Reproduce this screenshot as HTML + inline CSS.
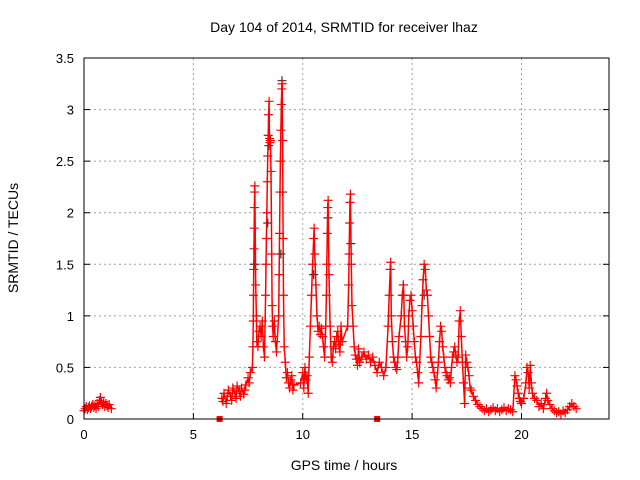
<!DOCTYPE html>
<html><head><meta charset="utf-8"><style>
body{margin:0;background:#fff}
svg{display:block;font-family:"Liberation Sans",sans-serif}
</style></head><body>
<svg id="chart" width="640" height="480">
<text x="344" y="32" font-size="14" text-anchor="middle">Day 104 of 2014, SRMTID for receiver lhaz</text>
<text x="344" y="470" font-size="14" text-anchor="middle">GPS time / hours</text>
<text transform="translate(18,238) rotate(-90)" font-size="14" text-anchor="middle">SRMTID / TECUs</text>
<g id="grid"></g><g id="marks"></g><g id="axes"></g>
</svg>
<script>
const xTicks=[0,5,10,15,20];
const yTicks=[0,0.5,1,1.5,2,2.5,3,3.5];
const yTickLabels=["0","0.5","1","1.5","2","2.5","3","3.5"];
const times=[0,.05,.1,.15,.2,.25,.3,.35,.4,.45,.5,.55,.6,.65,.7,.75,.8,.85,.9,.95,1,1.05,1.1,1.15,1.25,
6.2,
6.3,6.35,6.4,6.5,6.55,6.6,6.7,6.75,6.8,6.9,6.95,7,7.1,7.15,7.2,7.3,7.35,7.4,7.5,7.55,7.6,
7.7,7.72,7.74,7.75,7.76,7.77,7.78,7.79,7.8,7.81,7.85,7.88,7.9,7.95,8,8.05,8.1,8.15,8.2,8.25,
8.3,8.32,8.34,8.36,8.38,8.4,8.42,8.44,8.46,8.48,8.5,8.52,8.55,8.58,8.6,8.62,8.65,8.7,8.75,8.8,
8.9,8.92,8.94,8.96,8.98,9,9.02,9.04,9.06,9.08,9.1,9.12,9.15,9.2,9.25,9.3,9.35,9.4,9.45,9.5,9.55,9.6,
9.9,10,10.05,10.1,10.15,10.2,10.25,10.3,10.35,10.4,10.45,10.5,10.52,10.55,10.6,10.65,10.7,10.75,10.8,10.85,10.9,10.95,11,
11.05,11.08,11.1,11.12,11.14,11.16,11.2,11.25,11.3,11.35,11.4,11.45,11.5,11.55,11.6,11.65,11.7,11.75,11.8,
12.05,12.1,12.12,12.14,12.16,12.18,12.22,12.25,12.3,12.35,12.4,12.45,12.5,12.55,12.6,12.7,12.8,12.9,13,13.1,13.2,13.3,13.4,13.5,13.6,13.7,13.8,
13.9,13.95,14,14.02,14.05,14.1,14.15,14.2,14.25,14.3,14.35,14.4,14.5,14.55,14.6,14.62,14.65,14.7,14.75,14.8,14.85,14.9,14.95,15,15.05,15.1,15.15,15.2,15.25,15.3,
15.4,15.45,15.5,15.55,15.6,15.65,15.7,15.75,15.8,15.85,15.9,15.95,16,16.05,16.1,16.2,16.25,16.3,16.35,16.4,16.45,16.5,16.55,16.6,16.65,16.7,16.75,
16.8,16.85,16.9,16.95,17,17.05,17.1,17.15,17.2,17.25,17.3,17.35,17.4,17.45,17.5,17.55,17.6,17.65,17.7,17.8,17.9,18,18.1,18.2,18.3,18.4,18.5,18.6,18.7,18.8,18.9,19,19.1,19.2,19.3,19.4,19.5,19.6,
19.7,19.75,19.8,19.85,19.9,19.95,20,20.1,20.2,20.25,20.3,20.35,20.4,20.45,20.5,20.6,20.7,20.8,20.9,21,21.1,21.15,21.2,21.3,21.4,21.5,21.6,21.7,21.8,21.9,22,22.1,22.2,22.3,22.4,22.5];
const values=[.08,.1,.12,.09,.11,.13,.1,.12,.14,.11,.13,.1,.15,.12,.18,.21,.16,.14,.17,.12,.15,.13,.11,.14,.1,
0,
.2,.17,.25,.15,.22,.28,.22,.18,.3,.25,.2,.32,.27,.22,.3,.24,.28,.33,.4,.35,.45,
.5,.7,.95,1.2,1.45,1.65,1.85,2.05,2.2,2.26,1.3,1,.75,.7,.85,.9,.8,.95,.7,.6,
1.2,1.5,1.75,2,2.3,2.55,2.75,2.95,3.08,2.72,2.68,2.7,2.4,1.6,1.1,.9,.8,.95,.75,.65,
1,1.4,1.8,2.2,2.5,2.8,3.05,3.2,3.25,2.7,1.75,1.2,.7,.55,.4,.45,.35,.3,.38,.42,.28,.33,
.35,.45,.3,.5,.38,.42,.25,.6,.9,1.2,1.5,1.75,1.85,1.6,1.3,1,.85,.9,.82,.88,.8,.7,.6,
.9,1.2,1.5,1.8,2.05,2.12,1.4,.9,.6,.55,.7,.75,.68,.8,.85,.72,.65,.9,.75,
.9,1.3,1.6,1.9,2.1,2.18,1.5,1.1,.9,.7,.62,.58,.52,.68,.55,.6,.65,.58,.62,.55,.6,.52,.45,.55,.5,.42,.5,
.9,1.2,1.45,1.52,1,.75,.6,.55,.5,.48,.6,.8,1,1.2,1.3,1.2,.9,.75,.6,.7,1,1.15,1.2,1.05,.9,.75,.6,.55,.45,.35,
.8,1.1,1.35,1.5,1.45,1.25,1.2,1,.8,.6,.55,.5,.45,.38,.3,.55,.75,.9,.85,.7,.6,.5,.45,.42,.38,.4,.35,
.5,.6,.65,.7,.62,.55,.6,.95,1.05,.8,.55,.35,.15,.62,.55,.5,.42,.3,.28,.22,.18,.14,.12,.1,.08,.1,.07,.09,.11,.08,.1,.07,.09,.11,.08,.1,.09,.07,
.42,.38,.32,.25,.2,.17,.15,.2,.35,.5,.45,.3,.52,.35,.25,.2,.18,.12,.15,.1,.2,.25,.18,.14,.1,.08,.06,.07,.05,.08,.06,.09,.12,.15,.12,.1];
const zeroTimes=[6.2,13.4];
const blackTimes=[7.8,8.45,9.05,9.08,10.5,11.15,12.2,14.0,14.6,15.55,8.4,9.0];
const blackValues=[1.5,2.65,3.28,2.2,1.4,1.95,1.7,1.45,1.3,1.2,1.9,1.6];

const L=84,R=609,T=58,B=419;
const xs=t=>L+t/24*(R-L);
const ys=v=>B-v/3.5*(B-T);
const NS="http://www.w3.org/2000/svg";
function mk(tag,attrs,parent){const e=document.createElementNS(NS,tag);for(const k in attrs)e.setAttribute(k,attrs[k]);parent.appendChild(e);return e;}
const grid=document.getElementById('grid'),marks=document.getElementById('marks'),axes=document.getElementById('axes');
xTicks.forEach((t,i)=>{
  if(t>0){const g=mk('line',{x1:xs(t),x2:xs(t),y1:T,y2:B,stroke:'#a0a0a0','stroke-dasharray':'2,3'},grid);
  
  }
  const tk=mk('line',{x1:xs(t),x2:xs(t),y1:B,y2:B-6,stroke:'#000'},axes);
  
  
  const tx=mk('text',{x:xs(t),y:B+20,'font-size':13,'text-anchor':'middle'},axes);tx.textContent=t;
  
  
});
yTicks.forEach((v,i)=>{
  if(v>0&&v<3.5){const g=mk('line',{x1:L,x2:R,y1:ys(v),y2:ys(v),stroke:'#a0a0a0','stroke-dasharray':'2,3'},grid);
  
  }
  const tk=mk('line',{x1:L,x2:L+6,y1:ys(v),y2:ys(v),stroke:'#000'},axes);
  
  
  const tk2=mk('line',{x1:R,x2:R-6,y1:ys(v),y2:ys(v),stroke:'#000'},axes);
  
  
  const tx=mk('text',{x:L-10,y:ys(v)+5,'font-size':13,'text-anchor':'end'},axes);tx.textContent=yTickLabels[i];
  
  
});
const fr=mk('rect',{x:L,y:T,width:R-L,height:B-T,fill:'none',stroke:'#000'},axes);


function plus(x,y,c,name){
  const p=mk('path',{d:`M${x-4.5},${y}h9M${x},${y-4.5}v9`,stroke:c,'stroke-width':1.2,fill:'none'},marks);
  
  
}
blackTimes.forEach((t,i)=>plus(xs(t),ys(blackValues[i]),'#333','black-point'));
let d='';
times.forEach((t,i)=>{if(values[i]===0)return;const gap=i===0||times[i]-times[i-1]>0.5||values[i-1]===0;d+=(gap?'M':'L')+xs(t).toFixed(1)+','+ys(values[i]).toFixed(1);});
const tr=mk('path',{d:d,stroke:'#f00','stroke-width':1.5,fill:'none','stroke-linejoin':'round'},marks);


times.forEach((t,i)=>{if(values[i]!==0)plus(xs(t),ys(values[i]),'#f00','srmtid-point');});
zeroTimes.forEach(t=>{
  const r=mk('rect',{x:xs(t)-3,y:B-3,width:6,height:6,fill:'#f00'},marks);
  
  
});
</script>
</body></html>
